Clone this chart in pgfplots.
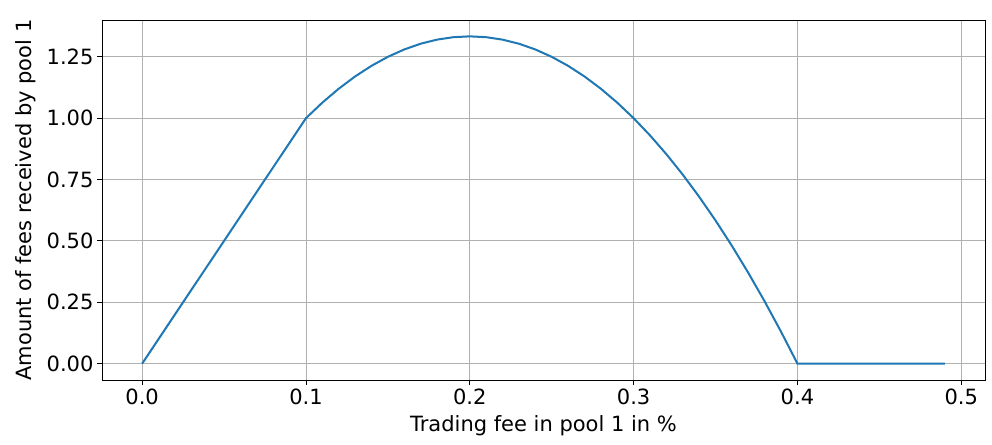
\documentclass[border=0pt]{standalone}
\usepackage{fontspec}
\setmainfont{DejaVu Sans}
\usepackage{pgfplots}
\pgfplotsset{compat=1.18}
\definecolor{mplblue}{HTML}{1F77B4}
\definecolor{mplgrid}{HTML}{B0B0B0}
\begin{document}
\begin{tikzpicture}
\begin{axis}[
    name=main,
    scale only axis,
    width=883pt, height=360pt,
    xmin=-0.0245, xmax=0.5145,
    ymin=-0.0667, ymax=1.4,
    xtick={0,0.1,0.2,0.3,0.4,0.5},
    ytick={0,0.25,0.5,0.75,1,1.25},
    xticklabel style={/pgf/number format/.cd,fixed,fixed zerofill,precision=1},
    yticklabel style={/pgf/number format/.cd,fixed,fixed zerofill,precision=2},
    /pgf/number format/assume math mode=true,
    tick label style={font=\fontsize{21}{24}\selectfont},
    label style={font=\fontsize{21}{24}\selectfont},
    xlabel={Trading fee in pool 1 in \%},
    ylabel={Amount of fees received by pool 1},
    xlabel style={yshift=-4pt},
    ylabel style={yshift=4pt},
    grid=major,
    grid style={mplgrid, line width=0.9pt},
    tick align=outside,
    major tick length=5pt,
    tick pos=left,
    axis line style={black, line width=0.9pt},
    every tick/.style={black, line width=0.9pt},
]
\addplot[mplblue, line width=2pt, mark=none] coordinates {
(0.00,0) (0.01,0.1) (0.02,0.2) (0.03,0.3) (0.04,0.4) (0.05,0.5)
(0.06,0.6) (0.07,0.7) (0.08,0.8) (0.09,0.9) (0.10,1.0)
(0.11,1.06333) (0.12,1.12) (0.13,1.17) (0.14,1.21333) (0.15,1.25)
(0.16,1.28) (0.17,1.30333) (0.18,1.32) (0.19,1.33) (0.20,1.33333)
(0.21,1.33) (0.22,1.32) (0.23,1.30333) (0.24,1.28) (0.25,1.25)
(0.26,1.21333) (0.27,1.17) (0.28,1.12) (0.29,1.06333) (0.30,1.0)
(0.31,0.93) (0.32,0.85333) (0.33,0.77) (0.34,0.68) (0.35,0.58333)
(0.36,0.48) (0.37,0.37) (0.38,0.25333) (0.39,0.13) (0.40,0)
(0.41,0) (0.42,0) (0.43,0) (0.44,0) (0.45,0) (0.46,0) (0.47,0)
(0.48,0) (0.49,0)
};
\end{axis}
\pgfresetboundingbox
\path (main.south west) ++(-102pt,-64pt) rectangle ([shift={(7pt,20pt)}]main.north east);
\end{tikzpicture}
\end{document}
